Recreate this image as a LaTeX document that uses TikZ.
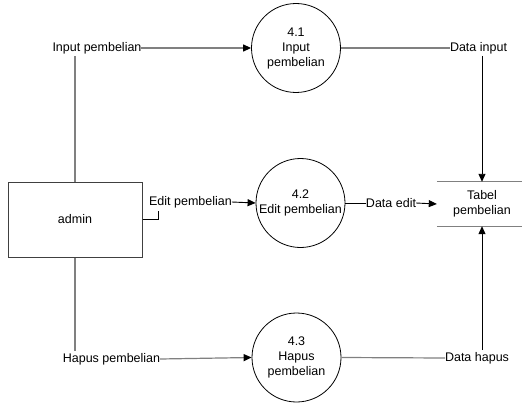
\documentclass[tikz,border=0pt]{standalone}
\usepackage{fontspec}
\setmainfont{Liberation Sans}
\usetikzlibrary{arrows.meta}
\begin{document}
\begin{tikzpicture}[x=1pt,y=-1pt,
  every node/.style={font=\fontsize{12.5}{15}\selectfont},
  proc/.style={circle,draw=black,line width=0.8pt,minimum size=89pt,inner sep=0pt,align=center},
  ent/.style={rectangle,draw=black!75,line width=1pt,minimum width=134pt,minimum height=75pt},
  store/.style={rectangle,minimum width=90pt,minimum height=44pt,inner sep=0pt,align=center},
  lbl/.style={inner sep=0pt,outer sep=0pt},
  gline/.style={draw=black!50,line width=1.2pt},
  bline/.style={draw=black,line width=0.9pt},
  tip/.style={-{Triangle[length=8pt,width=7pt,color=black]}},
]
\useasboundingbox (0,0) rectangle (522,404);

% processes
\node[proc] (p1) at (296,48) {4.1\\Input\\pembelian};
\node[proc] (p2) at (300.5,203) {4.2\\Edit pembelian};
\node[proc] (p3) at (296.5,357.5) {4.3\\Hapus\\pembelian};

% entity and store
\node[ent] (admin) at (75,219.5) {admin};
\node[store] (st) at (482,204) {Tabel\\pembelian};
\draw[gline] (st.north west) -- (st.north east);
\draw[gline] (st.south west) -- (st.south east);

% flow labels
\node[lbl] (lin) at (97,48) {Input pembelian};
\node[lbl] (led) at (190.5,202) {Edit pembelian};
\node[lbl] (lhp) at (111.5,359) {Hapus pembelian};
\node[lbl] (din) at (478.5,48) {Data input};
\node[lbl] (ded) at (391,203) {Data edit};
\node[lbl] (dhp) at (477,358) {Data hapus};

% input flow
\draw[gline] (admin.north) -- ([yshift=-2pt]admin.north |- lin.south);
\draw[gline,tip] (lin.east) -- (p1.west);
\draw[gline] (p1.east) -- (din.west);
\draw[bline,tip] ([yshift=-2pt]din.south -| st.north) -- (st.north);

% edit flow
\coordinate (ec) at ([xshift=16pt]admin.east);
\draw[bline] (admin.east) -- (ec) -- ([yshift=-3pt]ec |- led.south);
\draw[bline,tip] (led.east) -- (p2.west);
\draw[bline] (p2.east) -- (ded.west);
\draw[bline,tip] (ded.east) -- (st.west);

% hapus flow
\draw[gline] (admin.south) -- ([yshift=2pt]admin.south |- lhp.north);
\draw[gline,tip] (lhp.east) -- (p3.west);
\draw[gline] (p3.east) -- (dhp.west);
\draw[bline,tip] ([yshift=2pt]dhp.north -| st.south) -- (st.south);
\end{tikzpicture}
\end{document}
